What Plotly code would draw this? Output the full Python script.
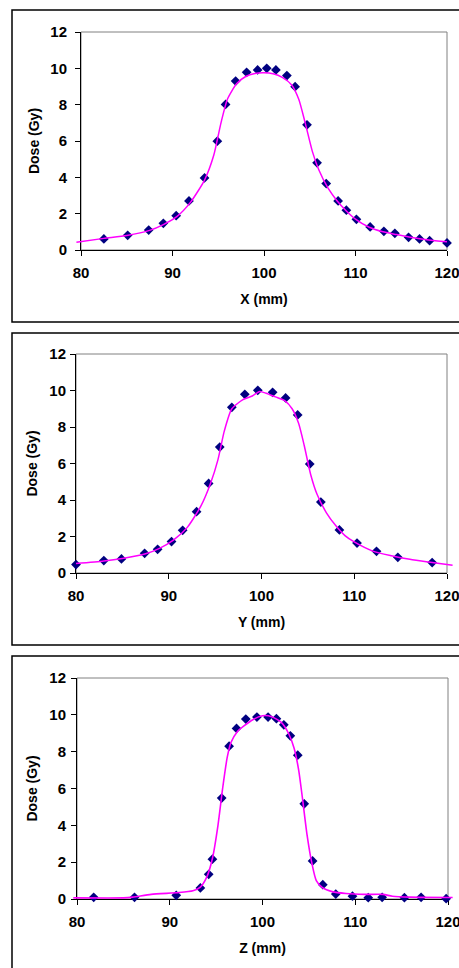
import plotly.graph_objects as go

# ---------------- data ----------------
# Panel X: measured points
x_meas_x = [82.5, 85.1, 87.4, 89.0, 90.4, 91.8, 93.5, 94.9, 95.8, 96.9, 98.1, 99.3, 100.3,
            101.3, 102.5, 103.4, 104.7, 105.8, 106.8, 108.1, 109.0, 110.1, 111.6, 113.1,
            114.3, 115.8, 117.0, 118.1, 120.0]
x_meas_d = [0.61, 0.81, 1.10, 1.47, 1.89, 2.70, 3.97, 5.99, 8.01, 9.30, 9.78, 9.91, 10.0,
            9.91, 9.60, 8.99, 6.89, 4.80, 3.66, 2.70, 2.19, 1.69, 1.27, 1.03,
            0.92, 0.70, 0.61, 0.51, 0.39]
# Panel X: calculated curve
x_calc_x = [79.5, 82.5, 85.0, 87.5, 89.0, 90.5, 92.0, 93.5, 94.5, 95.3, 96.0, 97.0, 98.0, 99.0,
            100.0, 101.0, 102.0, 103.0, 103.8, 104.5, 105.3, 106.0, 107.0, 108.0, 109.0,
            110.0, 111.5, 113.0, 114.5, 116.0, 118.0, 120.0]
x_calc_d = [0.43, 0.64, 0.80, 1.08, 1.40, 1.85, 2.65, 3.85, 5.2, 7.0, 8.3, 9.15, 9.55, 9.72,
            9.76, 9.70, 9.50, 9.10, 8.30, 7.00, 5.40, 4.40, 3.40, 2.70, 2.15,
            1.70, 1.25, 1.00, 0.85, 0.70, 0.55, 0.45]

# Panel Y
y_meas_x = [80.0, 83.0, 84.9, 87.4, 88.8, 90.3, 91.5, 93.0, 94.3, 95.5, 96.8, 98.2, 99.6,
            101.2, 102.6, 103.9, 105.2, 106.4, 108.4, 110.3, 112.4, 114.7, 118.4]
y_meas_d = [0.46, 0.68, 0.77, 1.08, 1.30, 1.72, 2.34, 3.36, 4.91, 6.90, 9.08, 9.79, 10.01,
            9.90, 9.59, 8.66, 5.97, 3.89, 2.36, 1.64, 1.19, 0.86, 0.57]
y_calc_x = [80.0, 83.0, 85.0, 87.5, 89.0, 90.5, 92.0, 93.5, 94.5, 95.3, 96.0, 96.8, 98.0, 99.0,
            99.8, 100.5, 101.5, 102.5, 103.3, 104.0, 104.6, 105.3, 106.0, 107.0, 108.0,
            109.0, 110.0, 112.0, 114.0, 116.0, 118.0, 120.6]
y_calc_d = [0.52, 0.66, 0.80, 1.05, 1.35, 1.80, 2.50, 3.70, 4.90, 6.20, 7.80, 9.00, 9.50, 9.70,
            9.95, 9.85, 9.65, 9.45, 9.00, 8.20, 7.00, 5.40, 4.30, 3.30, 2.60,
            2.05, 1.70, 1.20, 0.95, 0.75, 0.60, 0.42]

# Panel Z
z_meas_x = [81.8, 86.2, 90.7, 93.3, 94.2, 94.6, 95.6, 96.4, 97.2, 98.2, 99.4, 100.6, 101.5,
            102.3, 103.0, 103.8, 104.5, 105.4, 106.5, 107.9, 109.7, 111.4, 112.9, 115.3,
            117.1, 119.8]
z_meas_d = [0.09, 0.09, 0.20, 0.60, 1.34, 2.16, 5.48, 8.30, 9.26, 9.77, 9.88, 9.88, 9.79,
            9.46, 8.86, 7.81, 5.17, 2.07, 0.78, 0.27, 0.15, 0.07, 0.09, 0.07,
            0.09, 0.02]
z_calc_x = [79.6, 85.0, 86.0, 88.0, 91.0, 92.5, 93.3, 94.0, 94.6, 95.2, 95.7, 96.2, 96.6, 97.3,
            98.0, 99.0, 100.0, 101.0, 102.0, 102.8, 103.4, 103.9, 104.3, 104.8, 105.3,
            105.8, 106.5, 107.5, 109.0, 111.0, 113.0, 114.0, 116.0, 120.5]
z_calc_d = [0.06, 0.06, 0.10, 0.25, 0.35, 0.45, 0.65, 1.20, 2.20, 4.00, 6.00, 7.70, 8.50, 9.10,
            9.40, 9.75, 9.95, 9.90, 9.60, 9.00, 8.20, 7.00, 5.50, 3.50, 2.00,
            1.00, 0.60, 0.40, 0.30, 0.25, 0.25, 0.15, 0.10, 0.08]

x_titles = ["X (mm)", "Y (mm)", "Z (mm)"]
y_title = "Dose (Gy)"
x_ticks = [80, 90, 100, 110, 120]
y_ticks = [0, 2, 4, 6, 8, 10, 12]

panels = [
    (x_meas_x, x_meas_d, x_calc_x, x_calc_d),
    (y_meas_x, y_meas_d, y_calc_x, y_calc_d),
    (z_meas_x, z_meas_d, z_calc_x, z_calc_d),
]

# ---------------- layout geometry (pixels) ----------------
W, H = 459, 968
plot_boxes = [  # (left, right, top, bottom) of the plotting area
    (81, 447, 32, 250),
    (76, 447, 354, 573),
    (77, 448, 678, 899),
]
panel_boxes = [  # outer chart borders (top, bottom)
    (10, 322),
    (333, 645),
    (656, 990),
]
ytick_standoff = [5, 1, 2]
ytitle_standoff = [7, 8, 8]
line_widths = [1.5, 1.5, 1.6]
EXT = 0.7  # mm of overhang allowed for the calculated curve beyond the axis ends

FONT = "Liberation Sans, Arial, sans-serif"
fig = go.Figure()
layout = dict(
    template="none",
    width=W, height=H,
    margin=dict(l=0, r=0, t=0, b=0, autoexpand=False),
    paper_bgcolor="white", plot_bgcolor="rgba(0,0,0,0)",
    showlegend=False,
    font=dict(family=FONT, color="#000000"),
    shapes=[],
)

for i, (mx, md, cx, cd) in enumerate(panels):
    n = "" if i == 0 else str(i + 1)
    xa, ya = "x" + n, "y" + n
    xo = "x" + str(i + 4)  # helper axis for the curve (same scale, slightly wider)
    l, r, t, b = plot_boxes[i]
    pxmm = (r - l) / 40.0
    xdom = [l / W, r / W]
    ydom = [1 - b / H, 1 - t / H]

    fig.add_trace(go.Scatter(
        x=cx, y=cd, mode="lines",
        line=dict(color="#FF00FF", width=line_widths[i], shape="spline", smoothing=0.6),
        xaxis=xo, yaxis=ya, hoverinfo="skip"))
    fig.add_trace(go.Scatter(
        x=mx, y=md, mode="markers", cliponaxis=False,
        marker=dict(symbol="diamond", size=7.5, color="#000080", line=dict(width=0)),
        xaxis=xa, yaxis=ya))

    layout["xaxis" + n] = dict(
        domain=xdom, range=[80, 120], tickvals=x_ticks, ticktext=[str(v) for v in x_ticks],
        showgrid=False, zeroline=False, showline=True, linecolor="#000000", linewidth=1,
        ticks="outside", ticklen=5, tickcolor="#000000", tickwidth=1,
        tickfont=dict(size=15, family=FONT, weight="bold"),
        ticklabelstandoff=4, ticklabeloverflow="allow",
        title=dict(text=x_titles[i], font=dict(size=14, family=FONT, weight="bold"), standoff=14),
        anchor=ya, fixedrange=True, automargin=False, layer="below traces",
    )
    layout["yaxis" + n] = dict(
        domain=ydom, range=[0, 12], tickvals=y_ticks,
        showgrid=False, zeroline=False, showline=True, linecolor="#000000", linewidth=1,
        ticks="outside", ticklen=5, tickcolor="#000000", tickwidth=1,
        tickfont=dict(size=15, family=FONT, weight="bold"),
        ticklabelstandoff=ytick_standoff[i], ticklabeloverflow="allow",
        title=dict(text=y_title, font=dict(size=14, family=FONT, weight="bold"),
                   standoff=ytitle_standoff[i]),
        anchor=xa, fixedrange=True, automargin=False, layer="below traces",
    )
    layout["xaxis" + str(i + 4)] = dict(
        domain=[(l - EXT * pxmm) / W, (r + EXT * pxmm) / W],
        range=[80 - EXT, 120 + EXT], visible=False, anchor=ya, fixedrange=True,
        automargin=False,
    )
    # grey plot-area border (top & right)
    layout["shapes"].append(dict(
        type="rect", xref=xa + " domain", yref=ya + " domain", x0=0, x1=1, y0=0, y1=1,
        line=dict(color="#808080", width=1), layer="below"))
    # outer chart border
    pt, pb = panel_boxes[i]
    layout["shapes"].append(dict(
        type="rect", xref="paper", yref="paper", x0=12 / W, x1=1.05,
        y0=1 - pb / H, y1=1 - pt / H, line=dict(color="#000000", width=1.5)))

fig.update_layout(**layout)
fig.write_html(
    "out.html",
    config={"displayModeBar": False},
    post_script="document.body.style.margin='0';document.body.style.overflow='hidden';",
)
